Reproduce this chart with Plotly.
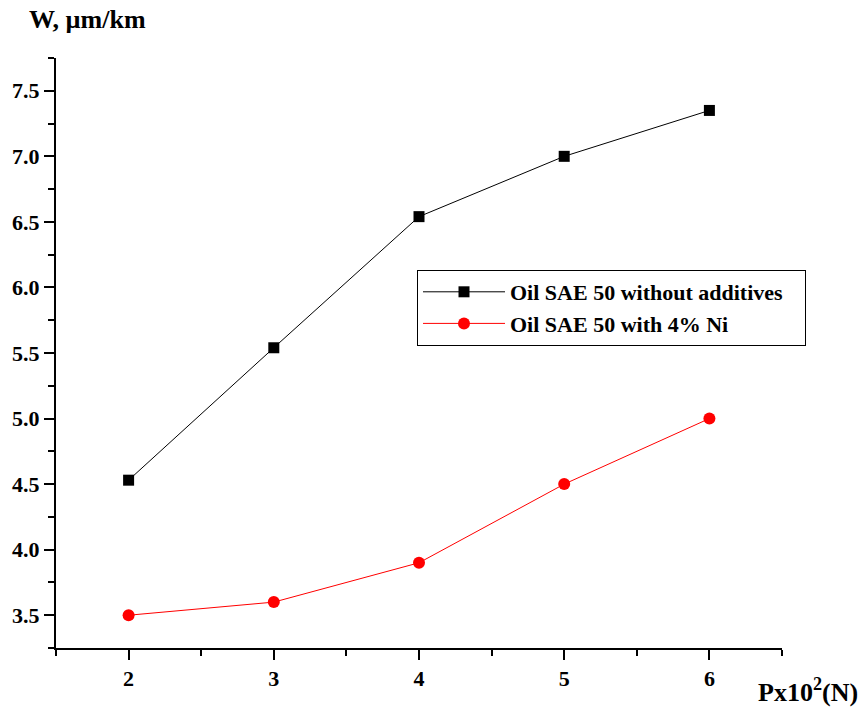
import plotly.graph_objects as go

x_load = [2, 3, 4, 5, 6]
w_plain = [4.53, 5.54, 6.54, 7.00, 7.35]
w_ni = [3.50, 3.60, 3.90, 4.50, 5.00]
name_plain = "Oil SAE 50 without additives"
name_ni = "Oil SAE 50 with 4% Ni"

FONT = "Liberation Serif, Times New Roman, serif"

fig = go.Figure()
fig.add_trace(go.Scatter(x=x_load, y=w_plain, mode="lines+markers", name=name_plain + "\u00a0\u00a0\u00a0",
                         line=dict(color="black", width=1),
                         marker=dict(symbol="square", size=11, color="black")))
fig.add_trace(go.Scatter(x=x_load, y=w_ni, mode="lines+markers", name=name_ni,
                         line=dict(color="red", width=1),
                         marker=dict(symbol="circle", size=12, color="red")))

L, R, T, B = 56, 77, 58, 61
W, H = 859, 709
pw, ph = W - L - R, H - T - B

axis_common = dict(showgrid=False, zeroline=False, showline=True, linecolor="black",
                   linewidth=2, ticks="outside", ticklen=10, tickwidth=2, tickcolor="black",
                   tickfont=dict(family=FONT, size=22, color="black", weight="bold"))

fig.update_layout(
    width=W, height=H, margin=dict(l=L, r=R, t=T, b=B),
    paper_bgcolor="white", plot_bgcolor="white",
    xaxis=dict(range=[1.5, 6.5], tick0=2, dtick=1,
               minor=dict(dtick=0.5, tick0=1.5, ticks="outside", ticklen=6, tickwidth=2, tickcolor="black"),
               **axis_common),
    yaxis=dict(range=[3.25, 7.75], tick0=3.5, dtick=0.5, tickformat=".1f",
               minor=dict(dtick=0.25, tick0=3.25, ticks="outside", ticklen=6, tickwidth=2, tickcolor="black"),
               **axis_common),
    legend=dict(x=(417 - L) / pw, y=(H - B - 270) / ph, xanchor="left", yanchor="top",
                bordercolor="black", borderwidth=1, bgcolor="white", itemwidth=82,
                font=dict(family=FONT, size=22, color="black", weight="bold"),
                tracegroupgap=0),
    showlegend=True,
)

fig.add_annotation(text="W, µm/km", xref="paper", yref="paper",
                   x=(27 - L) / pw, y=(H - B - 20) / ph, xanchor="left", yanchor="middle",
                   showarrow=False, font=dict(family=FONT, size=26, color="black", weight="bold"))
fig.add_annotation(text="Px10<sup>2</sup>(N)", xref="paper", yref="paper",
                   x=(808 - L) / pw, y=(H - B - 690) / ph, xanchor="center", yanchor="middle",
                   showarrow=False, font=dict(family=FONT, size=26, color="black", weight="bold"))

fig.write_html("out.html")
